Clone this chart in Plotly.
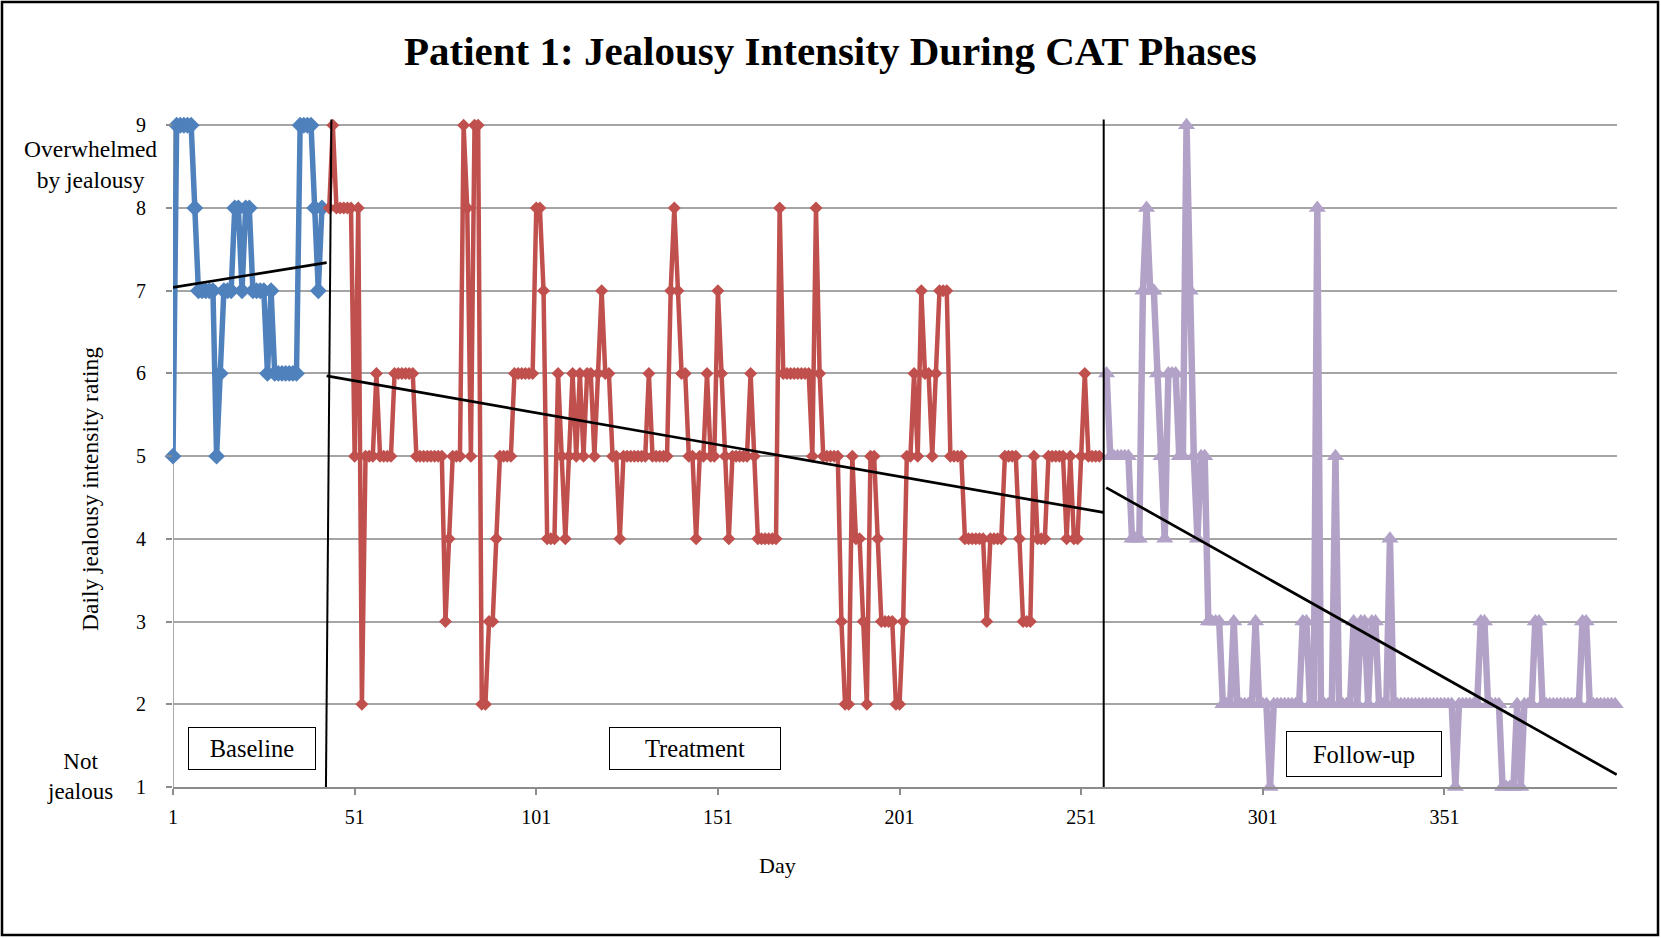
import plotly.graph_objects as go

# ---------------- data ----------------
baseline_days = list(range(1, 43))
baseline_vals = [5, 9, 9, 9, 9, 9, 8, 7, 7, 7,
                 7, 7, 5, 6, 7, 7, 7, 8, 8, 7,
                 8, 8, 7, 7, 7, 7, 6, 7, 6, 6,
                 6, 6, 6, 6, 6, 9, 9, 9, 9, 8,
                 7, 8]

treatment_days = list(range(44, 257))
treatment_vals = [8, 9, 8, 8, 8, 8, 8, 5, 8, 2,      # 44-53
                  5, 5, 5, 6, 5, 5, 5, 5, 6, 6,      # 54-63
                  6, 6, 6, 6, 5, 5, 5, 5, 5, 5,      # 64-73
                  5, 5, 3, 4, 5, 5, 5, 9, 8, 5,      # 74-83
                  9, 9, 2, 2, 3, 3, 4, 5, 5, 5,      # 84-93
                  5, 6, 6, 6, 6, 6, 6, 8, 8, 7,      # 94-103
                  4, 4, 4, 6, 5, 4, 5, 6, 5, 6,      # 104-113
                  5, 6, 6, 5, 6, 7, 6, 6, 5, 5,      # 114-123
                  4, 5, 5, 5, 5, 5, 5, 5, 6, 5,      # 124-133
                  5, 5, 5, 5, 7, 8, 7, 6, 6, 5,      # 134-143
                  5, 4, 5, 5, 6, 5, 5, 7, 6, 5,      # 144-153
                  4, 5, 5, 5, 5, 5, 6, 5, 4, 4,      # 154-163
                  4, 4, 4, 4, 8, 6, 6, 6, 6, 6,      # 164-173
                  6, 6, 6, 5, 8, 6, 5, 5, 5, 5,      # 174-183
                  5, 3, 2, 2, 5, 4, 4, 3, 2, 5,      # 184-193
                  5, 4, 3, 3, 3, 3, 2, 2, 3, 5,      # 194-203
                  5, 6, 5, 7, 6, 6, 5, 6, 7, 7,      # 204-213
                  7, 5, 5, 5, 5, 4, 4, 4, 4, 4,      # 214-223
                  4, 3, 4, 4, 4, 4, 5, 5, 5, 5,      # 224-233
                  4, 3, 3, 3, 5, 4, 4, 4, 5, 5,      # 234-243
                  5, 5, 5, 4, 5, 4, 4, 5, 6, 5,      # 244-253
                  5, 5, 5]                           # 254-256

followup_days = list(range(258, 400))
followup_vals = [6, 5, 5, 5, 5, 5, 5, 4, 4, 4,       # 258-267
                 7, 8, 7, 7, 6, 5, 4, 6, 6, 6,       # 268-277
                 5, 5, 9, 7, 5, 4, 5, 5, 3, 3,       # 278-287
                 3, 3, 2, 2, 2, 3, 2, 2, 2, 2,       # 288-297
                 2, 3, 2, 2, 2, 1, 2, 2, 2, 2,       # 298-307
                 2, 2, 2, 2, 3, 3, 2, 2, 8, 2,       # 308-317
                 2, 2, 2, 5, 2, 2, 2, 2, 3, 2,       # 318-327
                 3, 3, 2, 3, 3, 2, 2, 2, 4, 2,       # 328-337
                 2, 2, 2, 2, 2, 2, 2, 2, 2, 2,       # 338-347
                 2, 2, 2, 2, 2, 2, 1, 2, 2, 2,       # 348-357
                 2, 2, 2, 3, 3, 2, 2, 2, 2, 1,       # 358-367
                 1, 1, 1, 2, 1, 2, 2, 2, 3, 3,       # 368-377
                 2, 2, 2, 2, 2, 2, 2, 2, 2, 2,       # 378-387
                 2, 3, 3, 2, 2, 2, 2, 2, 2, 2,       # 388-397
                 2, 2]                               # 398-399

# linear trend lines (end points)
baseline_trend_days = [1, 43.3]
baseline_trend_vals = [7.04, 7.34]
treatment_trend_days = [43.3, 257.1]
treatment_trend_vals = [5.97, 4.32]
followup_trend_days = [257.9, 398.4]
followup_trend_vals = [4.62, 1.15]

# phase-change lines (bottom day, top day)
phase_line_bottom_days = [43.1, 257.2]
phase_line_top_days = [44.6, 257.2]

x_tick_vals = [1, 51, 101, 151, 201, 251, 301, 351]
y_tick_vals = [1, 2, 3, 4, 5, 6, 7, 8, 9]

phase_labels = ["Baseline", "Treatment", "Follow-up"]

# ---------------- layout geometry ----------------
W, H = 1661, 938
ML, MR, MT, MB = 173, 44, 117, 151
PW, PH = W - ML - MR, H - MT - MB
X_RANGE = [1, 398.5]
Y_RANGE = [1, 9.1]


def px_x(x):
    return (x - ML) / PW


def px_y(y):
    return (H - MB - y) / PH


SERIF = "Liberation Serif, Times New Roman, serif"
BLUE = "#4F81BD"
RED = "#C0504D"
PURPLE = "#B3A2C7"
GRID = "#A5A5A5"

fig = go.Figure()

fig.add_trace(go.Scatter(
    x=baseline_days, y=baseline_vals, mode="lines+markers", name="Baseline",
    line=dict(color=BLUE, width=5.5),
    marker=dict(symbol="diamond", size=13, color=BLUE),
    cliponaxis=False))

fig.add_trace(go.Scatter(
    x=treatment_days, y=treatment_vals, mode="lines+markers", name="Treatment",
    line=dict(color=RED, width=4.5),
    marker=dict(symbol="diamond", size=10, color=RED),
    cliponaxis=False))

fig.add_trace(go.Scatter(
    x=followup_days, y=followup_vals, mode="lines+markers", name="Follow-up",
    line=dict(color=PURPLE, width=6.5),
    marker=dict(symbol="triangle-up", size=15, color=PURPLE),
    cliponaxis=False))

for tx, ty in [(baseline_trend_days, baseline_trend_vals),
               (treatment_trend_days, treatment_trend_vals),
               (followup_trend_days, followup_trend_vals)]:
    fig.add_trace(go.Scatter(x=tx, y=ty, mode="lines",
                             line=dict(color="black", width=2.7),
                             hoverinfo="skip"))

shapes = []
# y axis line (from 1 to 9 only)
shapes.append(dict(type="line", xref="x", yref="y", x0=1, x1=1, y0=1, y1=9,
                   line=dict(color="#8C8C8C", width=1.5), layer="below"))
# phase change lines
for xb, xt in zip(phase_line_bottom_days, phase_line_top_days):
    shapes.append(dict(type="line", xref="x", yref="y", x0=xb, x1=xt,
                       y0=1, y1=9.07, line=dict(color="black", width=2),
                       layer="above"))
# outer frame
shapes.append(dict(type="rect", xref="paper", yref="paper",
                   x0=px_x(2), x1=px_x(1658), y0=px_y(935), y1=px_y(2),
                   line=dict(color="black", width=2.5), layer="above"))

annotations = []
annotations.append(dict(
    text="<b>Patient 1: Jealousy Intensity During CAT Phases</b>",
    xref="paper", yref="paper", x=px_x(830), y=px_y(51),
    xanchor="center", yanchor="middle", showarrow=False,
    font=dict(family=SERIF, size=41, color="black")))
annotations.append(dict(
    text="Daily jealousy intensity rating", textangle=-90,
    xref="paper", yref="paper", x=px_x(90), y=px_y(489),
    xanchor="center", yanchor="middle", showarrow=False,
    font=dict(family=SERIF, size=23.5, color="black")))
annotations.append(dict(
    text="Overwhelmed<br>by jealousy",
    xref="paper", yref="paper", x=px_x(90), y=px_y(164),
    xanchor="center", yanchor="middle", showarrow=False,
    font=dict(family=SERIF, size=23.5, color="black")))
annotations.append(dict(
    text="Not<br>jealous",
    xref="paper", yref="paper", x=px_x(80), y=px_y(776),
    xanchor="center", yanchor="middle", showarrow=False,
    font=dict(family=SERIF, size=23, color="black")))
annotations.append(dict(
    text="Day",
    xref="paper", yref="paper", x=px_x(777), y=px_y(865),
    xanchor="center", yanchor="middle", showarrow=False,
    font=dict(family=SERIF, size=22, color="black")))

box_specs = [(22.8, 1.46, 126, 41), (144.8, 1.46, 170, 41), (328.9, 1.40, 154, 44)]
for label, (bx, by, bw, bh) in zip(phase_labels, box_specs):
    annotations.append(dict(
        text=label, xref="x", yref="y", x=bx, y=by,
        xanchor="center", yanchor="middle", showarrow=False,
        width=bw, height=bh, borderpad=0,
        bordercolor="black", borderwidth=1, bgcolor="white",
        font=dict(family=SERIF, size=24.5, color="black")))

fig.update_layout(
    width=W, height=H,
    margin=dict(l=ML, r=MR, t=MT, b=MB, pad=0),
    paper_bgcolor="white", plot_bgcolor="white",
    showlegend=False,
    shapes=shapes, annotations=annotations,
    xaxis=dict(range=X_RANGE, tickvals=x_tick_vals,
               ticktext=[str(v) for v in x_tick_vals],
               showgrid=False, zeroline=False,
               showline=True, linecolor="#8C8C8C", linewidth=1.5,
               ticks="outside", ticklen=6, tickcolor="#8C8C8C", tickwidth=1.5,
               ticklabelstandoff=5,
               tickfont=dict(family=SERIF, size=20, color="black")),
    yaxis=dict(range=Y_RANGE, tickvals=y_tick_vals,
               ticktext=[str(v) for v in y_tick_vals],
               showgrid=True, gridcolor=GRID, gridwidth=1.5,
               zeroline=False, showline=False,
               ticks="outside", ticklen=6, tickcolor="#8C8C8C", tickwidth=1.5,
               ticklabelstandoff=16,
               tickfont=dict(family=SERIF, size=20, color="black")),
)

fig.write_html(
    "out.html",
    config={"displayModeBar": False},
    post_script="document.body.style.margin='0px';document.body.style.overflow='hidden';")
